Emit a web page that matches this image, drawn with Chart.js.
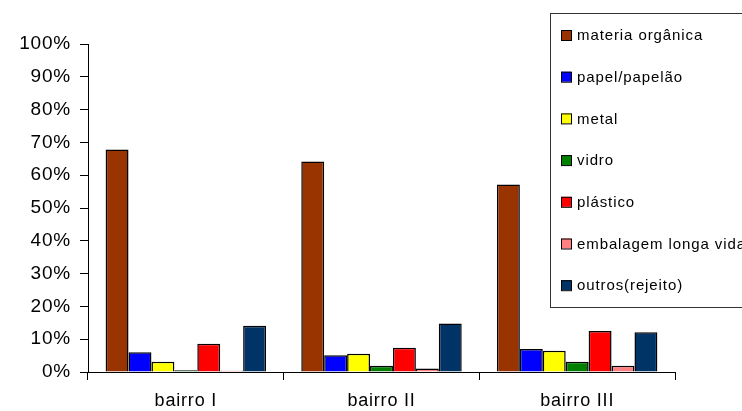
<!doctype html>
<html>
<head>
    <title>Composição dos resíduos</title>
    <script src="https://cdn.jsdelivr.net/npm/chart.js"></script>
    <style>
        body { margin: 0; background: #fff; }
        #box { width: 742px; height: 411px; }
    </style>
</head>
<body>
    <div id="box"><canvas id="grafico"></canvas></div>

    <script>
        // dados (%)
        var bairros = ['bairro I', 'bairro II', 'bairro III'];
        var materiaOrganica = [67.8, 64.2, 57.2];
        var papelPapelao = [6.0, 5.1, 7.0];
        var metal = [3.1, 5.6, 6.5];
        var vidro = [0.5, 1.9, 3.1];
        var plastico = [8.6, 7.4, 12.5];
        var embalagemLongaVida = [0.4, 1.1, 1.9];
        var outros = [14.1, 14.8, 12.1];

        var fonte = '"Liberation Sans", Arial, sans-serif';

        function serie(nome, cor, valores) {
            return { label: nome, data: valores, backgroundColor: cor, borderColor: '#000', borderWidth: 1.5 };
        }

        // espaçamento entre letras, o original tem texto mais largo
        var espacamento = {
            id: 'espacamento',
            beforeUpdate: function (chart) { chart.ctx.letterSpacing = '0.8px'; },
            beforeDraw: function (chart) { chart.ctx.letterSpacing = '0.8px'; }
        };

        // legenda desenhada por cima da área do gráfico, como no original
        var legendaBox = {
            id: 'legendaBox',
            afterDraw: function (chart) {
                var ctx = chart.ctx;
                ctx.save();
                ctx.letterSpacing = '0.9px';
                ctx.fillStyle = '#fff';
                ctx.fillRect(550, 13, 200, 294);
                ctx.strokeStyle = '#333';
                ctx.lineWidth = 1;
                ctx.strokeRect(550.5, 13.5, 200, 294);
                ctx.font = '15px ' + fonte;
                ctx.textBaseline = 'middle';
                chart.data.datasets.forEach(function (ds, i) {
                    var y = 35 + i * 41.7;
                    ctx.fillStyle = ds.backgroundColor;
                    ctx.fillRect(561, y - 5, 10, 10);
                    ctx.strokeStyle = '#000';
                    ctx.strokeRect(561.5, y - 4.5, 10, 10);
                    ctx.fillStyle = '#000';
                    ctx.fillText(ds.label, 577, y + 1);
                });
                ctx.restore();
            }
        };

        var grafico = new Chart(document.getElementById('grafico').getContext('2d'), {
            type: 'bar',
            data: {
                labels: bairros,
                datasets: [
                    serie('materia orgânica', '#993300', materiaOrganica),
                    serie('papel/papelão', '#0000FF', papelPapelao),
                    serie('metal', '#FFFF00', metal),
                    serie('vidro', '#008000', vidro),
                    serie('plástico', '#FF0000', plastico),
                    serie('embalagem longa vida', '#FF8080', embalagemLongaVida),
                    serie('outros(rejeito)', '#003366', outros)
                ]
            },
            plugins: [espacamento, legendaBox],
            options: {
                responsive: true,
                maintainAspectRatio: false,
                animation: false,
                layout: { padding: { top: 44, right: 67, left: 0, bottom: 0 } },
                plugins: {
                    legend: { display: false },
                    tooltip: { enabled: false }
                },
                datasets: {
                    bar: { categoryPercentage: 0.82, barPercentage: 1 }
                },
                scales: {
                    x: {
                        grid: { drawOnChartArea: false, drawTicks: true, tickLength: 8, color: '#000', offset: true },
                        border: { color: '#000' },
                        ticks: {
                            color: '#000',
                            padding: 10,
                            font: { family: fonte, size: 18 }
                        },
                        afterFit: function (scale) { scale.height = 39; }
                    },
                    y: {
                        min: 0,
                        max: 100,
                        grid: { drawOnChartArea: false, drawTicks: true, tickLength: 8, color: '#000' },
                        border: { color: '#000' },
                        ticks: {
                            stepSize: 10,
                            color: '#000',
                            padding: 9,
                            font: { family: fonte, size: 19 },
                            callback: function (v) { return v + '%'; }
                        },
                        afterFit: function (scale) { scale.width = 88; }
                    }
                }
            }
        });
    </script>
</body>
</html>
